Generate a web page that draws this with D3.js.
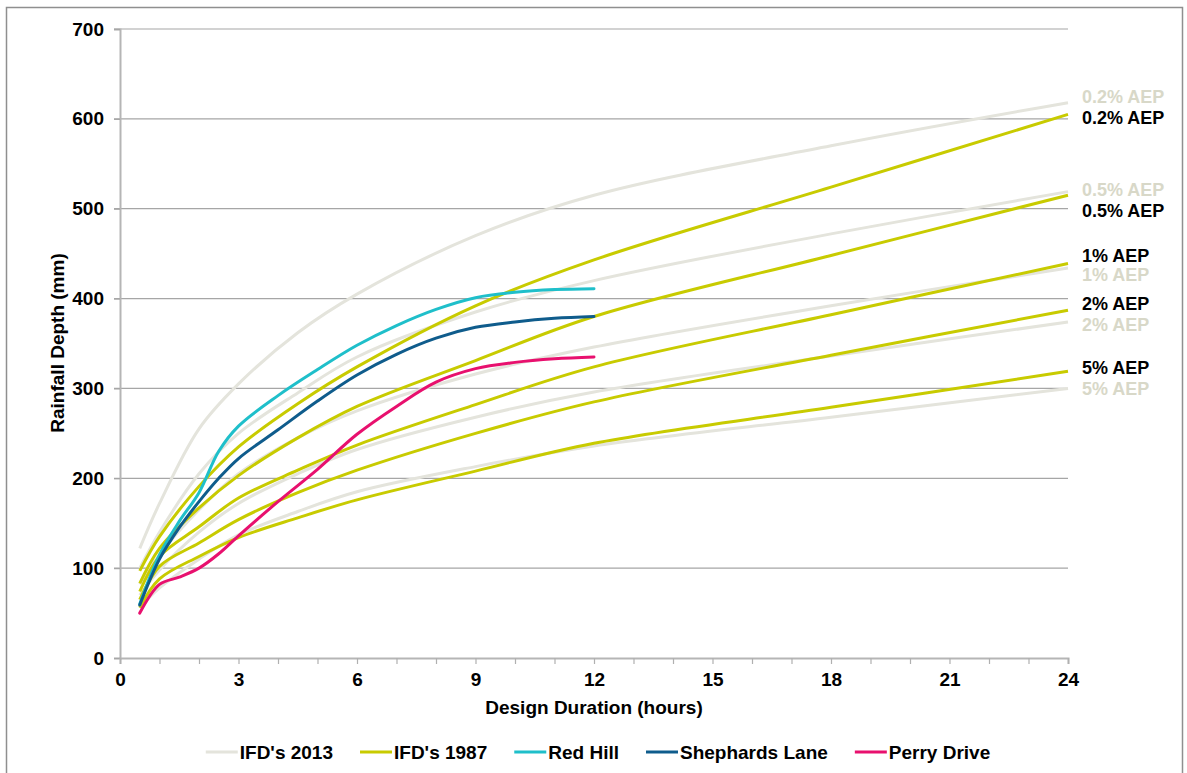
<!DOCTYPE html>
<html>
<head>
<meta charset="utf-8">
<script src="https://cdn.jsdelivr.net/npm/d3@7"></script>
<style>
  html, body { margin: 0; padding: 0; background: #fff; }
  svg { display: block; }
  text { font-family: "Liberation Sans", Arial, Helvetica, sans-serif; font-weight: bold; }
</style>
</head>
<body>
<svg id="chart" width="1187" height="773"></svg>
<script>
// ---- Data ----
const ifdDurations = [0.5, 1, 2, 3, 4.5, 6, 9, 12, 18, 24];

const ifd2013_02 = [122, 172, 255, 305, 362, 405, 470, 515, 570, 618];
const ifd2013_05 = [100, 140, 205, 250, 295, 335, 385, 420, 472, 519];
const ifd2013_1  = [82, 115, 165, 205, 245, 275, 316, 346, 392, 434];
const ifd2013_2  = [70, 98, 140, 172, 205, 232, 268, 296, 336, 374];
const ifd2013_5  = [56, 78, 110, 137, 163, 185, 213, 236, 268, 300];

const ifd1987_02 = [97, 135, 191, 235, 283, 324, 392, 443, 524, 605];
const ifd1987_05 = [83, 122, 167, 203, 245, 280, 331, 380, 448, 515];
const ifd1987_1  = [74, 113, 146, 178, 209, 237, 282, 324, 382, 439];
const ifd1987_2  = [65, 102, 128, 154, 184, 209, 250, 285, 337, 387];
const ifd1987_5  = [56, 88, 113, 134, 156, 176, 208, 239, 279, 319];

const aepLabels = ["0.2% AEP", "0.5% AEP", "1% AEP", "2% AEP", "5% AEP"];

const obsDurations = [0.5, 1, 1.5, 2, 2.5, 3, 4, 5, 6, 7, 8, 9, 10, 11, 12];
const redHill    = [60, 115, 152, 184, 230, 258, 292, 321, 348, 370, 388, 401, 407, 410, 411];
const shephards  = [59, 110, 145, 174, 200, 222, 254, 286, 315, 338, 356, 368, 374, 378, 380];
const perryDrive = [50, 82, 90, 100, 116, 136, 174, 210, 249, 280, 307, 322, 329, 333, 335];

const legendNames = ["IFD's 2013", "IFD's 1987", "Red Hill", "Shephards Lane", "Perry Drive"];
const xTicks = [0, 3, 6, 9, 12, 15, 18, 21, 24];
const yTicks = [0, 100, 200, 300, 400, 500, 600, 700];

// ---- Styles ----
const C2013 = "#e4e4dc", C1987 = "#c8cb00", CRED = "#1fbfca", CSHE = "#0f5c8c", CPER = "#e8106e";
const C2013_LABEL = "#d8d8c8";
const label1987Nudge = [4, 16, -8, -6, -3];
const label2013Nudge = [-6, -2, 7, 3, 1];

const svg = d3.select("#chart");
const x = d3.scaleLinear().domain([0, 24]).range([120, 1068]);
const y = d3.scaleLinear().domain([0, 700]).range([658, 29]);

// frame
svg.append("rect").attr("x", 6.5).attr("y", 7.5).attr("width", 1176).attr("height", 800)
  .attr("fill", "none").attr("stroke", "#8f8f8f").attr("stroke-width", 1.5);

// gridlines
svg.append("g").selectAll("line").data(yTicks.filter(d => d > 0)).join("line")
  .attr("x1", x(0) - 6).attr("x2", x(24)).attr("y1", d => y(d)).attr("y2", d => y(d))
  .attr("stroke", "#a6a6a6").attr("stroke-width", 1.2);

// y axis
const yAxis = svg.append("g").attr("transform", `translate(${x(0)},0)`)
  .call(d3.axisLeft(y).tickValues(yTicks).tickSize(6).tickPadding(10));
yAxis.select(".domain").attr("stroke", "#b5b5b5").attr("stroke-width", 2);
yAxis.selectAll(".tick line").attr("stroke", "#a6a6a6").attr("stroke-width", 1.2);
yAxis.selectAll(".tick text").attr("font-size", 19).attr("fill", "#000")
  .attr("font-family", "Liberation Sans, Arial, sans-serif").attr("font-weight", "bold");

// x axis
const xAxis = svg.append("g").attr("transform", `translate(0,${y(0)})`)
  .call(d3.axisBottom(x).tickValues(d3.range(0, 25, 1)).tickSize(6).tickPadding(9)
    .tickFormat(d => xTicks.includes(d) ? d : ""));
xAxis.select(".domain").attr("stroke", "#b5b5b5").attr("stroke-width", 2);
xAxis.selectAll(".tick line").attr("stroke", "#b0b0b0").attr("stroke-width", 1.2);
xAxis.selectAll(".tick text").attr("font-size", 19).attr("fill", "#000")
  .attr("font-family", "Liberation Sans, Arial, sans-serif").attr("font-weight", "bold");

// axis titles
svg.append("text").attr("x", 594).attr("y", 707).attr("text-anchor", "middle")
  .attr("dominant-baseline", "central").attr("font-size", 19).text("Design Duration (hours)");
svg.append("text").attr("transform", "translate(57,343) rotate(-90)").attr("text-anchor", "middle")
  .attr("dominant-baseline", "central").attr("font-size", 19).text("Rainfall Depth (mm)");

const line = d3.line().x(d => x(d[0])).y(d => y(d[1])).curve(d3.curveCatmullRom.alpha(0.5));
const zipD = (ds, vs) => ds.map((d, i) => [d, vs[i]]);

const set2013 = [ifd2013_02, ifd2013_05, ifd2013_1, ifd2013_2, ifd2013_5];
const set1987 = [ifd1987_02, ifd1987_05, ifd1987_1, ifd1987_2, ifd1987_5];

svg.append("g").selectAll("path").data(set2013).join("path")
  .attr("d", v => line(zipD(ifdDurations, v))).attr("fill", "none")
  .attr("stroke", C2013).attr("stroke-width", 3);
svg.append("g").selectAll("path").data(set1987).join("path")
  .attr("d", v => line(zipD(ifdDurations, v))).attr("fill", "none")
  .attr("stroke", C1987).attr("stroke-width", 3);

const obs = [[redHill, CRED], [shephards, CSHE], [perryDrive, CPER]];
svg.append("g").selectAll("path").data(obs).join("path")
  .attr("d", o => line(zipD(obsDurations, o[0]))).attr("fill", "none")
  .attr("stroke", o => o[1]).attr("stroke-width", 3).attr("stroke-linecap", "round");

// end labels
svg.append("g").selectAll("text").data(set2013).join("text")
  .attr("x", x(24) + 14).attr("y", (v, i) => y(v[v.length - 1]) + label2013Nudge[i])
  .attr("dominant-baseline", "central").attr("font-size", 18).attr("fill", C2013_LABEL)
  .text((v, i) => aepLabels[i]);
svg.append("g").selectAll("text").data(set1987).join("text")
  .attr("x", x(24) + 14).attr("y", (v, i) => y(v[v.length - 1]) + label1987Nudge[i])
  .attr("dominant-baseline", "central").attr("font-size", 18).attr("fill", "#000")
  .text((v, i) => aepLabels[i]);

// legend
const legendColors = [C2013, C1987, CRED, CSHE, CPER];
const lg = svg.append("g");
const items = [];
legendNames.forEach((name, i) => {
  const g = lg.append("g");
  g.append("line").attr("x1", 0).attr("x2", 32).attr("y1", 0).attr("y2", 0)
    .attr("stroke", legendColors[i]).attr("stroke-width", 3);
  const t = g.append("text").attr("x", 34).attr("y", 0).attr("dominant-baseline", "central")
    .attr("font-size", 19).text(name);
  const w = 34 + t.node().getComputedTextLength();
  items.push({ g, w });
});
const gap = 27;
const total = d3.sum(items, d => d.w) + gap * (items.length - 1);
let start = 598 - total / 2;
items.forEach(it => { it.g.attr("transform", `translate(${start},752)`); start += it.w + gap; });
</script>
</body>
</html>
